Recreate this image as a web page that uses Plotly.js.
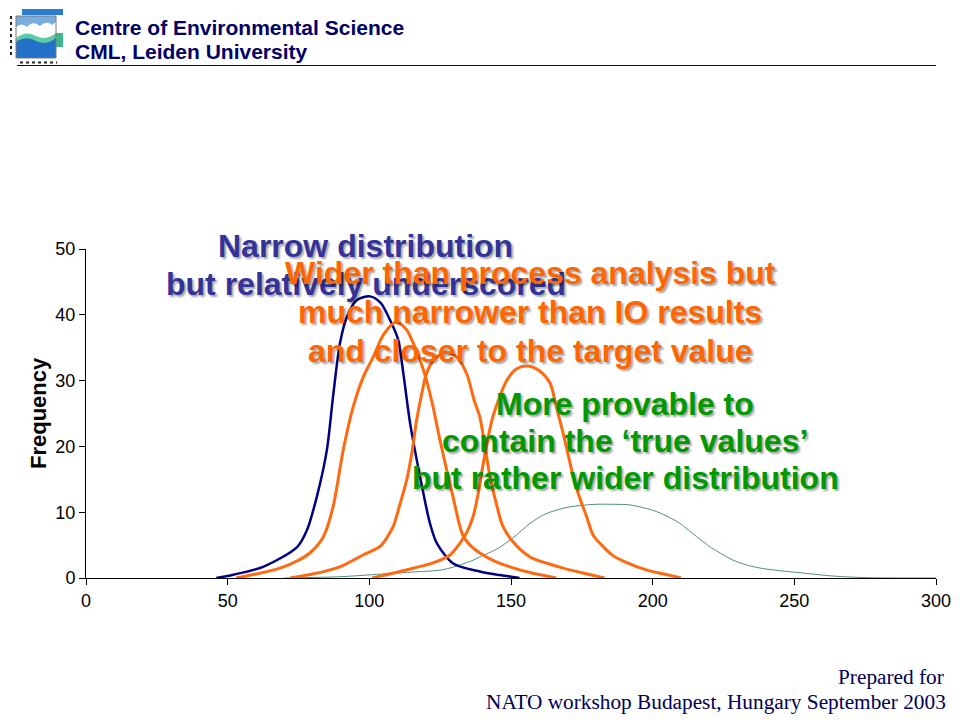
<!DOCTYPE html>
<html>
<head>
<meta charset="utf-8">
<script src="https://cdn.plot.ly/plotly-3.0.1.min.js"></script>
<style>html,body{margin:0;padding:0;background:#fff;}#chart{width:960px;height:720px;}</style>
</head>
<body>
<div id="chart"></div>
<script>
// ---------------- data ----------------
const xTicks = [0, 50, 100, 150, 200, 250, 300];
const yTicks = [0, 10, 20, 30, 40, 50];

// process analysis (narrow)
const navyX = [46, 52, 62.5, 74.5, 78, 81.5, 85, 87.2, 89.6, 92, 95.5, 100.2, 104, 107.3, 110.2, 112, 114.4, 117.9, 121.4, 123.8, 129.6, 139, 146, 153];
const navyY = [0, 0.5, 1.7, 4.7, 7.3, 12.4, 19.4, 27.6, 35.6, 39.6, 42.2, 42.8, 41.8, 39.2, 36.2, 31.1, 23.5, 15.4, 8.3, 5.3, 2.2, 1.0, 0.45, 0];

// hybrid results (three orange curves)
const or1X = [53, 60, 68.5, 75, 79, 83.7, 87.2, 90.8, 94.3, 97.8, 101.4, 105, 109.5, 113, 115.5, 118, 120.2, 122.5, 124.9, 129.5, 133, 136, 139, 144, 149.6, 157, 166];
const or1Y = [0, 0.6, 1.5, 2.7, 3.8, 6.2, 10.8, 19.5, 26, 30.5, 33.6, 37, 38.9, 37.8, 35.7, 33, 30, 26, 21, 12.4, 6.5, 4.8, 3.8, 2.6, 1.7, 0.8, 0];

const or2X = [72, 80, 89.6, 97.8, 103.8, 106, 108.4, 111, 113.2, 115, 116.7, 118.5, 120.2, 123, 127, 131, 134.4, 137, 139, 141, 142.6, 145, 147, 150.7, 156.7, 163, 168.4, 175, 183];
const or2Y = [0, 0.6, 1.7, 3.5, 4.8, 6, 7.8, 11.5, 14.9, 19, 24, 28, 31.1, 33.3, 34.3, 33.5, 31, 27, 24.5, 19.5, 15.4, 11, 8, 5.5, 3.2, 2.2, 1.5, 0.8, 0];

const or3X = [101, 110.8, 122.5, 128.5, 132, 134.5, 136.6, 138.5, 140, 143.6, 148.5, 152, 156, 160, 163.8, 166, 168.4, 172, 174, 176.7, 179, 182, 186, 190, 198, 204, 210];
const or3Y = [0, 1, 2.3, 3.5, 5.3, 7, 9.3, 13, 16.9, 24.5, 30, 31.8, 32.2, 31.5, 29.6, 26, 22, 15.4, 12.5, 9.3, 6.5, 5, 3.4, 2.5, 1.2, 0.6, 0];

// IO analysis (wide)
const greenX = [70, 90, 101, 115, 125, 130, 136.6, 139, 145, 150.7, 156.7, 162, 168.4, 174, 180, 186, 192, 200, 205, 209.6, 215.5, 220, 223.8, 228.4, 233, 238, 245, 252, 263.6, 275.6, 290, 300];
const greenY = [0, 0.2, 0.5, 0.9, 1.2, 1.7, 2.7, 3.2, 4.4, 6.1, 8.3, 9.7, 10.6, 11, 11.2, 11.2, 11.1, 10.3, 9.4, 8.3, 6.3, 4.8, 3.8, 2.7, 2.0, 1.5, 1.1, 0.8, 0.3, 0.05, 0, 0];

const navyLines = ['Narrow distribution', 'but relatively underscored'];
const orangeLines = ['Wider than process analysis but', 'much narrower than IO results', 'and closer to the target value'];
const greenLines = ['More provable to', 'contain the \u2018true values\u2019', 'but rather wider distribution'];
const headerLines = ['Centre of Environmental Science', 'CML, Leiden University'];
const footerLines = ['Prepared for', 'NATO workshop Budapest, Hungary September 2003'];
const yTitle = 'Frequency';

// ---------------- layout helpers ----------------
const L = 86, R = 936, T = 249, B = 578;
const xP = px => (px - L) / (R - L);
const yP = py => (B - py) / (B - T);
const sans = 'Liberation Sans, Arial, sans-serif';
const serif = 'Liberation Serif, Times New Roman, serif';

const NAVY = '#000080', ORANGE = '#ff6a10', TEAL = '#4f8f82';

const traces = [
  {x: greenX, y: greenY, mode: 'lines', line: {color: TEAL, width: 1, shape: 'spline', smoothing: 0.8}, hoverinfo: 'skip'},
  {x: navyX, y: navyY, mode: 'lines', line: {color: NAVY, width: 2.5, shape: 'spline', smoothing: 0.8}, hoverinfo: 'skip'},
  {x: or1X, y: or1Y, mode: 'lines', line: {color: ORANGE, width: 3, shape: 'spline', smoothing: 0.8}, hoverinfo: 'skip'},
  {x: or2X, y: or2Y, mode: 'lines', line: {color: ORANGE, width: 3, shape: 'spline', smoothing: 0.8}, hoverinfo: 'skip'},
  {x: or3X, y: or3Y, mode: 'lines', line: {color: ORANGE, width: 3, shape: 'spline', smoothing: 0.8}, hoverinfo: 'skip'}
];

const annotations = [];
const shadow = '2px 2px 2px rgba(0,0,0,0.35)';
function addLines(lines, cx, ys, color, size) {
  lines.forEach((t, i) => annotations.push({
    xref: 'paper', yref: 'paper', x: xP(cx), y: yP(ys[i]), xanchor: 'center', yanchor: 'middle',
    text: '<b>' + t + '</b>', showarrow: false,
    font: {family: sans, size: size, color: color, shadow: shadow}
  }));
}
addLines(navyLines, 365.5, [246, 284], '#333399', 32);
addLines(orangeLines, 530, [273, 312, 351], '#ff6600', 32);
addLines(greenLines, 625, [404, 441, 478], '#009900', 32);

// header text
headerLines.forEach((t, i) => annotations.push({
  xref: 'paper', yref: 'paper', x: xP(73), y: yP([27, 52][i]), xanchor: 'left', yanchor: 'middle',
  text: '<b>' + t + '</b>', showarrow: false, font: {family: sans, size: 21, color: '#000066'}
}));
// footer text
footerLines.forEach((t, i) => annotations.push({
  xref: 'paper', yref: 'paper', x: xP([946, 948][i]), y: yP([677, 702][i]), xanchor: 'right', yanchor: 'middle',
  text: t, showarrow: false, font: {family: serif, size: 21.3, color: '#000055'}
}));
// y axis title
annotations.push({
  xref: 'paper', yref: 'paper', x: xP(38), y: yP(413), xanchor: 'center', yanchor: 'middle',
  text: '<b>' + yTitle + '</b>', textangle: -90, showarrow: false, font: {family: sans, size: 22, color: '#000'}
});

// logo + header rule (decoration)
function rect(x0, y0, x1, y1, fill, line) {
  return {type: 'rect', xref: 'paper', yref: 'paper', x0: xP(x0), x1: xP(x1), y0: yP(y0), y1: yP(y1),
    fillcolor: fill, line: line || {width: 0}, layer: 'above'};
}
function path(pts, fill) {
  const s = pts.map(p => p[0] + (p.length > 1 ? p.slice(1).map((v, k) => (k % 2 === 0 ? xP(v) : yP(v)).toFixed(5)).join(',') : '')).join(' ');
  return {type: 'path', xref: 'paper', yref: 'paper', path: s, fillcolor: fill, line: {width: 0}, layer: 'above'};
}
const shapes = [
  rect(22, 9, 63, 15, '#2a7bd1'),
  rect(16, 16, 56, 32, '#79addf'),
  path([['M', 16, 32], ['L', 16, 27], ['Q', 22, 22, 27, 27], ['Q', 33, 20, 40, 26], ['Q', 47, 20, 52, 25], ['L', 56, 22], ['L', 56, 32], ['Z']], '#ffffff'),
  rect(56, 33, 63, 47, '#3bb88a'),
  path([['M', 16, 38], ['Q', 26, 30, 36, 36], ['Q', 46, 41, 56, 33], ['L', 56, 58], ['L', 16, 58], ['Z']], '#5ccaa5'),
  path([['M', 16, 42], ['Q', 26, 35, 36, 41], ['Q', 46, 46, 56, 38], ['L', 56, 58], ['L', 16, 58], ['Z']], '#2370c8'),
  rect(16, 16, 56, 58, 'rgba(0,0,0,0)', {color: '#7a7a7a', width: 1}),
  {type: 'line', xref: 'paper', yref: 'paper', x0: xP(11), x1: xP(11), y0: yP(16), y1: yP(58), line: {color: '#222', width: 2, dash: 'dot'}},
  {type: 'line', xref: 'paper', yref: 'paper', x0: xP(20), x1: xP(57), y0: yP(62.5), y1: yP(62.5), line: {color: '#222', width: 2, dash: 'dot'}},
  {type: 'line', xref: 'paper', yref: 'paper', x0: xP(17), x1: xP(936), y0: yP(65.5), y1: yP(65.5), line: {color: '#000066', width: 1.2}}
];

const layout = {
  width: 960, height: 720,
  margin: {l: L, r: 960 - R, t: T, b: 720 - B, pad: 0},
  paper_bgcolor: '#ffffff', plot_bgcolor: '#ffffff',
  showlegend: false,
  xaxis: {
    range: [0, 300], tickvals: xTicks, ticktext: xTicks.map(String),
    ticks: 'outside', ticklen: 6, tickwidth: 1, tickcolor: '#000',
    showline: true, linecolor: '#000', linewidth: 1,
    showgrid: false, zeroline: false, fixedrange: true,
    tickfont: {family: sans, size: 18, color: '#000'}
  },
  yaxis: {
    range: [0, 50], tickvals: yTicks, ticktext: yTicks.map(String),
    ticks: 'outside', ticklen: 6, tickwidth: 1, tickcolor: '#000',
    showline: true, linecolor: '#000', linewidth: 1,
    showgrid: false, zeroline: false, fixedrange: true,
    tickfont: {family: sans, size: 18, color: '#000'}
  },
  annotations: annotations,
  shapes: shapes
};

Plotly.newPlot('chart', traces, layout, {staticPlot: true, displayModeBar: false});
</script>
</body>
</html>
